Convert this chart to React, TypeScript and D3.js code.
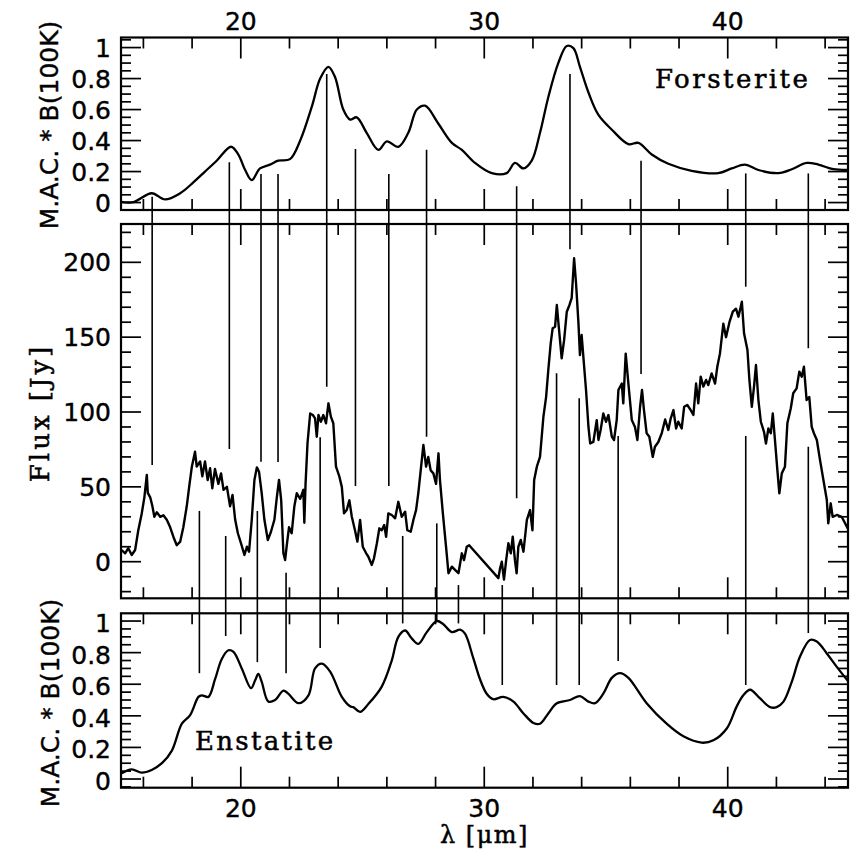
import React from "react";
import * as d3 from "d3";

// ---------- DATA ----------
const forsteriteWl = [15.07, 15.59, 16.34, 16.89, 17.51, 18.05, 18.53, 19.01, 19.6, 19.9, 20.18, 20.45, 20.79, 21.2, 21.54, 22.02, 22.44, 22.92, 23.26, 23.6, 23.87, 24.21, 24.49, 24.76, 25.17, 25.65, 26.0, 26.47, 26.88, 27.23, 27.57, 28.11, 28.67, 29.08, 29.62, 30.31, 30.92, 31.26, 31.61, 31.95, 32.29, 32.63, 33.04, 33.39, 33.66, 33.93, 34.28, 34.69, 35.24, 35.92, 36.33, 36.88, 37.56, 38.52, 39.61, 40.16, 40.71, 41.26, 42.08, 42.63, 43.24, 43.72, 44.34, 44.94];
const forsteriteVal = [0.005, 0.003, 0.06, 0.02, 0.06, 0.13, 0.2, 0.27, 0.36, 0.31, 0.21, 0.145, 0.22, 0.245, 0.27, 0.28, 0.4, 0.62, 0.8, 0.876, 0.81, 0.6, 0.535, 0.55, 0.45, 0.34, 0.395, 0.36, 0.45, 0.6, 0.625, 0.51, 0.385, 0.34, 0.256, 0.19, 0.19, 0.256, 0.22, 0.27, 0.45, 0.68, 0.9, 1.01, 0.996, 0.876, 0.71, 0.565, 0.47, 0.377, 0.385, 0.31, 0.25, 0.205, 0.19, 0.22, 0.245, 0.21, 0.19, 0.215, 0.256, 0.245, 0.215, 0.21];

const fluxWl = [15.11, 15.25, 15.38, 15.52, 15.66, 15.79, 15.93, 16.04, 16.14, 16.18, 16.28, 16.37, 16.45, 16.55, 16.69, 16.82, 16.96, 17.1, 17.23, 17.37, 17.51, 17.64, 17.78, 17.88, 17.99, 18.12, 18.19, 18.33, 18.42, 18.53, 18.64, 18.74, 18.83, 18.94, 19.08, 19.19, 19.29, 19.43, 19.56, 19.66, 19.77, 19.88, 20.01, 20.15, 20.25, 20.34, 20.45, 20.56, 20.66, 20.75, 20.86, 20.97, 21.11, 21.24, 21.38, 21.48, 21.57, 21.66, 21.75, 21.82, 21.89, 21.98, 22.09, 22.2, 22.3, 22.44, 22.57, 22.61, 22.66, 22.74, 22.85, 22.96, 23.05, 23.12, 23.19, 23.29, 23.39, 23.5, 23.6, 23.7, 23.8, 23.91, 24.05, 24.15, 24.24, 24.35, 24.46, 24.56, 24.69, 24.79, 24.9, 25.01, 25.15, 25.24, 25.38, 25.47, 25.59, 25.69, 25.79, 25.89, 25.97, 26.06, 26.2, 26.34, 26.47, 26.61, 26.75, 26.84, 26.98, 27.09, 27.2, 27.29, 27.39, 27.5, 27.61, 27.7, 27.8, 27.91, 28.02, 28.12, 28.18, 28.3, 28.43, 28.53, 28.67, 28.8, 28.94, 29.08, 29.17, 29.28, 29.38, 30.58, 30.65, 30.72, 30.81, 30.9, 30.99, 31.09, 31.17, 31.26, 31.33, 31.4, 31.5, 31.61, 31.75, 31.88, 31.98, 32.05, 32.16, 32.29, 32.43, 32.54, 32.63, 32.73, 32.81, 32.91, 32.98, 33.06, 33.18, 33.28, 33.39, 33.5, 33.59, 33.69, 33.77, 33.87, 33.93, 34.0, 34.07, 34.18, 34.28, 34.35, 34.48, 34.62, 34.69, 34.78, 34.89, 35.0, 35.1, 35.24, 35.33, 35.44, 35.51, 35.65, 35.71, 35.81, 35.92, 36.06, 36.19, 36.29, 36.4, 36.48, 36.56, 36.67, 36.78, 36.92, 37.01, 37.15, 37.29, 37.43, 37.56, 37.66, 37.77, 37.88, 37.97, 38.11, 38.21, 38.34, 38.48, 38.59, 38.7, 38.79, 38.89, 39.0, 39.11, 39.2, 39.34, 39.48, 39.57, 39.68, 39.82, 39.93, 40.07, 40.21, 40.34, 40.44, 40.58, 40.67, 40.81, 40.89, 40.99, 41.08, 41.16, 41.26, 41.36, 41.49, 41.57, 41.67, 41.77, 41.85, 41.94, 42.04, 42.12, 42.22, 42.35, 42.45, 42.59, 42.69, 42.83, 42.94, 43.04, 43.13, 43.24, 43.35, 43.45, 43.54, 43.66, 43.79, 43.93, 44.07, 44.13, 44.23, 44.31, 44.48, 44.68, 45.0];
const fluxJy = [7.8, 5.6, 9, 4.5, 7.8, 21, 32, 43, 58, 46, 43, 37, 30, 33, 30, 31, 28, 23, 16.7, 11, 13.4, 23, 37, 50, 63.5, 73.5, 63.5, 67, 57, 67, 54.6, 62.4, 49, 62, 52, 59, 48, 50, 37, 44.6, 28, 19, 12.3, 4.5, 10, 6.7, 28, 54.6, 63, 60, 45.7, 28, 14.5, 20, 28, 43, 54.6, 41, 5.6, 1.1, 11, 23, 19, 37, 45.7, 42, 48, 26, 52, 79, 99, 98, 95.8, 83.5, 98, 93.5, 98, 92.5, 105.8, 96.9, 92.5, 63.5, 56.8, 50, 32.3, 34.5, 41, 30, 21, 13.4, 27.9, 10, 5.6, 3.3, -2.2, 2.3, 12.3, 22.3, 21, 24.5, 16.7, 32.3, 31.2, 29, 40, 30, 33.4, 21, 20, 27.9, 34.5, 45.7, 61, 78, 63.5, 70, 61, 59, 52, 72.4, 54.6, 32.3, 10, -7.7, -3.3, -5.5, -7.7, 5.6, 1.1, 10, 11, -11, -4.4, 0, -12, 1, 12.3, 5.6, 16.7, 1, -7.7, 10, 14.5, 6.7, 27.9, 34.5, 21, 54.6, 63.5, 70, 96.9, 110, 128, 146, 156, 157, 171.5, 157, 135.9, 148, 167, 171.5, 176, 202.7, 186, 159, 138, 151.4, 137, 114.7, 90, 79, 80, 94.6, 81.3, 88, 99, 93.5, 98, 83.5, 81.3, 94.6, 114.7, 119, 105.8, 139, 119, 94.6, 90, 81.3, 103.5, 114.7, 101.3, 85.8, 83.5, 70, 76.8, 80, 85.8, 95, 88, 95.8, 101.3, 89, 93.5, 89, 103.5, 104.7, 101.3, 98, 119, 105.8, 123.6, 117, 121.4, 118, 125.8, 119, 130, 139, 159, 150, 160, 167, 169, 163.7, 173.7, 152.6, 141.4, 121.4, 103.5, 117, 131.4, 108, 93.5, 86.8, 79, 89, 85.8, 99, 81.3, 61, 45.7, 59, 63.5, 92.5, 102.5, 112.5, 115.8, 127, 123.6, 130.3, 108, 110, 90, 85.8, 81.3, 68, 54.6, 41.2, 25.6, 39, 30, 31.2, 30, 20];

const enstatiteWl = [15.11, 15.52, 15.93, 16.34, 16.76, 17.17, 17.58, 17.92, 18.26, 18.4, 18.67, 18.94, 19.22, 19.49, 19.7, 20.04, 20.42, 20.59, 20.72, 20.86, 21.13, 21.41, 21.75, 21.95, 22.37, 22.78, 23.05, 23.33, 23.67, 24.15, 24.49, 24.62, 24.9, 25.24, 25.79, 26.2, 26.47, 26.75, 27.02, 27.29, 27.64, 28.05, 28.32, 28.67, 29.01, 29.21, 29.55, 29.83, 30.1, 30.37, 30.78, 31.2, 31.61, 32.02, 32.29, 32.63, 32.98, 33.52, 33.93, 34.28, 34.55, 34.89, 35.24, 35.58, 35.92, 36.67, 37.49, 38.18, 38.93, 39.41, 39.96, 40.37, 40.64, 40.92, 41.33, 41.74, 42.01, 42.29, 42.63, 42.97, 43.38, 43.66, 44.07, 44.48, 44.94];
const enstatiteVal = [0.036, 0.061, 0.04, 0.057, 0.1, 0.18, 0.35, 0.405, 0.52, 0.53, 0.52, 0.63, 0.76, 0.815, 0.805, 0.7, 0.575, 0.625, 0.665, 0.615, 0.49, 0.5, 0.56, 0.54, 0.48, 0.53, 0.7, 0.73, 0.68, 0.52, 0.46, 0.455, 0.425, 0.475, 0.585, 0.75, 0.9, 0.94, 0.89, 0.855, 0.93, 1.0, 0.98, 0.93, 0.945, 0.92, 0.765, 0.63, 0.54, 0.505, 0.52, 0.49, 0.415, 0.355, 0.35, 0.415, 0.48, 0.5, 0.525, 0.49, 0.48, 0.54, 0.64, 0.67, 0.64, 0.48, 0.35, 0.27, 0.23, 0.245, 0.32, 0.46, 0.53, 0.565, 0.51, 0.455, 0.455, 0.49, 0.615, 0.775, 0.88, 0.87, 0.795, 0.71, 0.62];

// Forsterite feature markers: wavelength, upper end (M.A.C. top panel), lower end (Flux)
const forsteriteLineWl = [16.36, 19.53, 20.83, 21.53, 23.53, 24.71, 26.08, 27.63, 31.33, 33.52, 36.44, 40.74, 43.31];
const forsteriteLineTop = [0.037, 0.26, 0.184, 0.184, 0.83, 0.345, 0.184, 0.34, 0.106, 0.83, 0.27, 0.188, 0.188];
const forsteriteLineFlux = [64.6, 75.3, 66.8, 66.6, 116.9, 50.6, 50.6, 83.5, 42.4, 208.7, 125.4, 183.7, 142.6];

// Enstatite feature markers: wavelength, upper end (Flux), lower end (M.A.C. bottom panel)
const enstatiteLineWl = [18.3, 19.38, 20.68, 21.86, 23.26, 26.65, 28.05, 28.94, 30.74, 32.97, 33.9, 35.5, 40.74, 43.31];
const enstatiteLineFlux = [33.9, 17.2, 33.9, -7.3, 83.1, 17.2, 25.6, -15.6, -15.6, 125.9, 109.2, 84, 84, 76.8];
const enstatiteLineBottom = [0.67, 0.905, 0.74, 0.67, 0.83, 0.985, 1.0, 0.985, 0.595, 0.595, 0.595, 0.747, 0.595, 0.924];

const xTickLabels = [20, 30, 40];
const macTickLabels = [0, 0.2, 0.4, 0.6, 0.8, 1];
const fluxTickLabels = [0, 50, 100, 150, 200];

// ---------- LAYOUT ----------
const L = 121, R = 848;
const P1 = { top: 37.5, bottom: 210 };
const P2 = { top: 224, bottom: 598.3 };
const P3 = { top: 613.3, bottom: 787.7 };

const NUM_FONT = "'DejaVu Sans', sans-serif";
const SERIF = "'DejaVu Serif', serif";

function rng(a: number, b: number, s: number) {
  const out: number[] = [];
  const n = Math.round((b - a) / s);
  for (let i = 0; i <= n; i++) out.push(+(a + i * s).toFixed(4));
  return out;
}

export default function App() {
  const x = d3.scaleLinear().domain([15.08, 44.94]).range([L, R]);
  const y1 = d3.scaleLinear().domain([-0.048, 1.065]).range([P1.bottom, P1.top]);
  const y2 = d3.scaleLinear().domain([-24.45, 225.6]).range([P2.bottom, P2.top]);
  const y3 = d3.scaleLinear().domain([-0.055, 1.049]).range([P3.bottom, P3.top]);

  const fors = forsteriteWl.map((w, i) => [w, forsteriteVal[i]] as [number, number]);
  const flux = fluxWl.map((w, i) => [w, fluxJy[i]] as [number, number]);
  const ens = enstatiteWl.map((w, i) => [w, enstatiteVal[i]] as [number, number]);

  const lineF = d3.line<[number, number]>().x(d => x(d[0])).y(d => y1(d[1])).curve(d3.curveCatmullRom.alpha(0.5));
  const lineM = d3.line<[number, number]>().x(d => x(d[0])).y(d => y2(d[1]));
  const lineE = d3.line<[number, number]>().x(d => x(d[0])).y(d => y3(d[1])).curve(d3.curveCatmullRom.alpha(0.5));

  const xTicks = rng(16, 44, 2);

  function axes(
    key: string,
    top: number,
    bottom: number,
    ys: d3.ScaleLinear<number, number>,
    minor: number[],
    major: number[]
  ) {
    const [d0, d1] = ys.domain();
    const els: React.ReactNode[] = [];
    xTicks.forEach(t => {
      const len = t % 10 === 0 ? 21 : 11;
      const xx = x(t);
      els.push(<line key={`${key}xt${t}`} x1={xx} x2={xx} y1={top} y2={top + len} />);
      els.push(<line key={`${key}xb${t}`} x1={xx} x2={xx} y1={bottom} y2={bottom - len} />);
    });
    minor.filter(v => v > d0 && v < d1).forEach(v => {
      const isMajor = major.some(m => Math.abs(m - v) < 1e-6);
      const len = isMajor ? 20 : 10;
      const yy = ys(v);
      els.push(<line key={`${key}yl${v}`} x1={L} x2={L + len} y1={yy} y2={yy} />);
      els.push(<line key={`${key}yr${v}`} x1={R} x2={R - len} y1={yy} y2={yy} />);
    });
    return (
      <g stroke="#000" strokeWidth={1.7}>
        {els}
        <rect x={L} y={top} width={R - L} height={bottom - top} fill="none" strokeWidth={2.2} />
      </g>
    );
  }

  const numStyle = { fontFamily: NUM_FONT, fontSize: 25, stroke: "#000", strokeWidth: 0.4 } as const;
  const serifStroke = { stroke: "#000", strokeWidth: 0.5 } as const;

  return (
    <svg
      width={850}
      height={850}
      viewBox="0 0 850 850"
      style={{ position: "absolute", left: 0, top: 0, background: "#fff" }}
    >
      <defs>
        <clipPath id="c1"><rect x={L} y={P1.top} width={R - L} height={P1.bottom - P1.top} /></clipPath>
        <clipPath id="c2"><rect x={L} y={P2.top} width={R - L} height={P2.bottom - P2.top} /></clipPath>
        <clipPath id="c3"><rect x={L} y={P3.top} width={R - L} height={P3.bottom - P3.top} /></clipPath>
      </defs>
      <rect x={0} y={0} width={850} height={850} fill="#fff" />

      {/* feature marker lines */}
      <g stroke="#000" strokeWidth={1.6}>
        {forsteriteLineWl.map((w, i) => (
          <line key={`fl${i}`} x1={x(w)} x2={x(w)} y1={y1(forsteriteLineTop[i])} y2={y2(forsteriteLineFlux[i])} />
        ))}
        {enstatiteLineWl.map((w, i) => (
          <line key={`el${i}`} x1={x(w)} x2={x(w)} y1={y2(enstatiteLineFlux[i])} y2={y3(enstatiteLineBottom[i])} />
        ))}
      </g>

      {/* curves */}
      <path d={lineF(fors) || ""} fill="none" stroke="#000" strokeWidth={2.3} clipPath="url(#c1)" strokeLinejoin="round" />
      <path d={lineM(flux) || ""} fill="none" stroke="#000" strokeWidth={2.4} clipPath="url(#c2)" strokeLinejoin="round" />
      <path d={lineE(ens) || ""} fill="none" stroke="#000" strokeWidth={2.3} clipPath="url(#c3)" strokeLinejoin="round" />

      {/* axes / frames */}
      {axes("p1", P1.top, P1.bottom, y1, rng(0, 1.05, 0.05), macTickLabels)}
      {axes("p2", P2.top, P2.bottom, y2, rng(-20, 220, 10), fluxTickLabels)}
      {axes("p3", P3.top, P3.bottom, y3, rng(-0.05, 1.05, 0.05), macTickLabels)}

      {/* y tick labels */}
      <g {...numStyle} textAnchor="end" fill="#000">
        {macTickLabels.map(v => (
          <text key={`l1${v}`} x={111} y={y1(v) + 9}>{String(v)}</text>
        ))}
        {fluxTickLabels.map(v => (
          <text key={`l2${v}`} x={111} y={y2(v) + 9}>{String(v)}</text>
        ))}
        {macTickLabels.map(v => (
          <text key={`l3${v}`} x={111} y={y3(v) + 11}>{String(v)}</text>
        ))}
      </g>

      {/* x tick labels */}
      <g {...numStyle} textAnchor="middle" fill="#000">
        {xTickLabels.map(v => (
          <text key={`xt${v}`} x={x(v)} y={30}>{String(v)}</text>
        ))}
        {xTickLabels.map(v => (
          <text key={`xb${v}`} x={x(v)} y={817}>{String(v)}</text>
        ))}
      </g>

      {/* axis titles */}
      <text x={(L + R) / 2} y={843} textAnchor="middle" fontFamily={SERIF} fontSize={24} letterSpacing={1.5} {...serifStroke}>λ [μm]</text>
      <text transform="translate(49,413) rotate(-90)" textAnchor="middle" fontFamily={SERIF} fontSize={26} letterSpacing={3} {...serifStroke}>Flux [Jy]</text>
      <text transform="translate(58,125) rotate(-90)" textAnchor="middle" fontFamily={NUM_FONT} fontSize={25} stroke="#000" strokeWidth={0.4}>M.A.C. * B(100K)</text>
      <text transform="translate(59,703) rotate(-90)" textAnchor="middle" fontFamily={NUM_FONT} fontSize={25} stroke="#000" strokeWidth={0.4}>M.A.C. * B(100K)</text>

      {/* species labels */}
      <text x={655} y={88} fontFamily={SERIF} fontSize={26} letterSpacing={2.5} {...serifStroke}>Forsterite</text>
      <text x={195} y={750} fontFamily={SERIF} fontSize={26} letterSpacing={2.3} {...serifStroke}>Enstatite</text>
    </svg>
  );
}
